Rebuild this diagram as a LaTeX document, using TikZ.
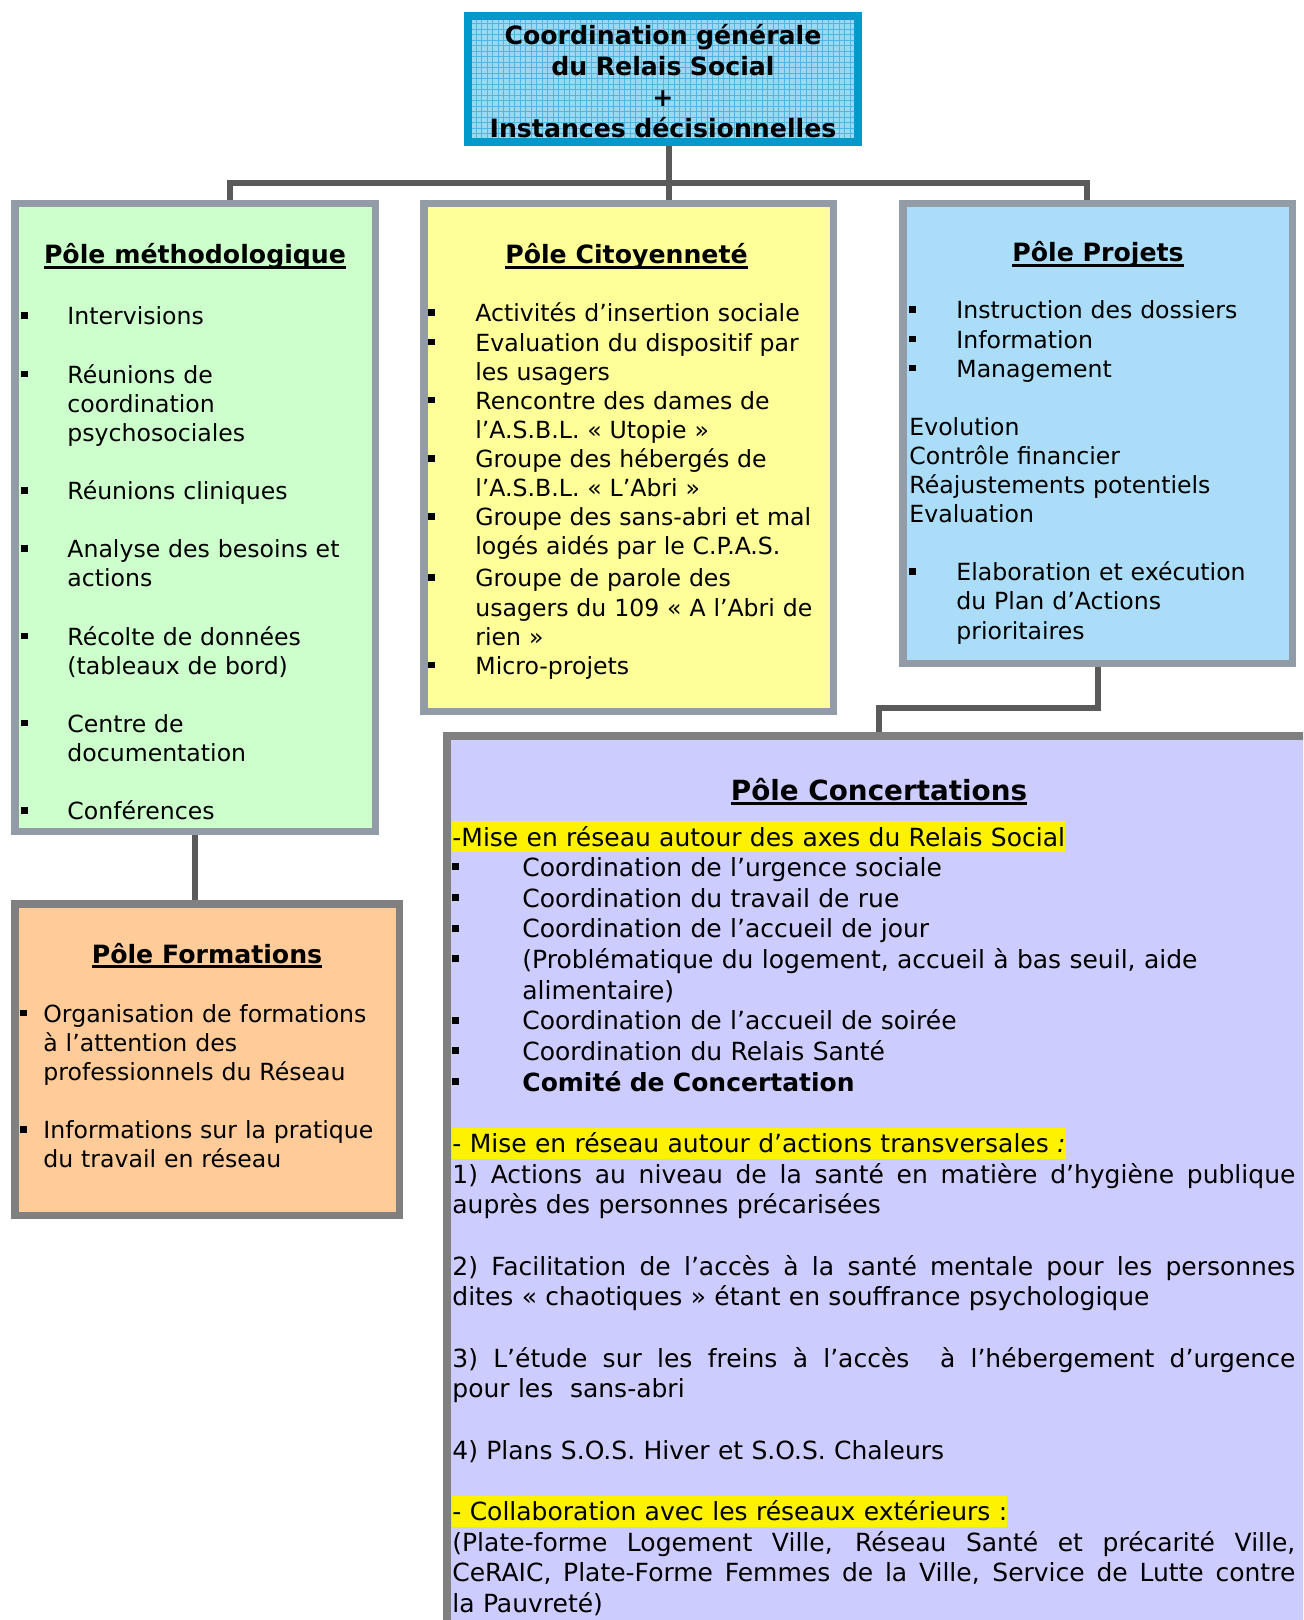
\documentclass[tikz,border=0pt]{standalone}
\usepackage{fontspec}
\setmainfont{DejaVu Sans}
\usepackage{xcolor}
\usetikzlibrary{positioning}

\definecolor{bordgris}{HTML}{939CA6}
\definecolor{bordfonce}{HTML}{808080}
\definecolor{liengris}{HTML}{5A5A5A}
\definecolor{bleucoord}{HTML}{0099CC}
\definecolor{fondcoord}{HTML}{9CD8F0}
\definecolor{grillecoord}{HTML}{4DB6E2}
\definecolor{vertpale}{HTML}{CCFFCC}
\definecolor{jaunepale}{HTML}{FFFF99}
\definecolor{bleupale}{HTML}{ABDDF8}
\definecolor{mauvepale}{HTML}{CCCCFF}
\definecolor{peche}{HTML}{FFCC99}

\setlength{\lineskiplimit}{-20pt}
\newsavebox{\boitetitre}
\newcommand{\titre}[1]{\sbox{\boitetitre}{\bfseries #1}\rlap{\rule[-2.5pt]{\wd\boitetitre}{1.3pt}}\usebox{\boitetitre}}
\newcommand{\carre}{\rule[0.25em]{0.28em}{0.28em}}
\newcommand{\puce}[2]{\hangindent=#1\hangafter=1\noindent\makebox[#1][l]{\carre}#2\par}
\newcommand{\vide}{\vskip\baselineskip}
\newcommand{\surligne}[1]{{\setlength{\fboxsep}{0pt}\colorbox{yellow}{\rule[-3pt]{0pt}{15.5pt}#1}}}
\newcommand{\ligne}[1]{{\spaceskip=0pt\xspaceskip=0pt\makebox[421.5pt][s]{#1}}}

\begin{document}
\begin{tikzpicture}[x=0.5pt, y=-0.5pt,
    cadre/.style={draw=bordgris, line width=3.75pt, outer sep=1.875pt, inner sep=0pt},
    lien/.style={draw=liengris, line width=3pt},
    entete/.style={anchor=base, inner sep=0pt, font=\fontsize{12.6}{15}\selectfont},
    texte/.style={anchor=base west, inner sep=0pt, align=left, font=\fontsize{11.8}{14.55}\selectfont},
    grand/.style={texte, font=\fontsize{12.5}{15.33}\selectfont}]
    \useasboundingbox (0,0) rectangle (1303,1620);
    \clip (0,0) rectangle (1303,1620);
    \fill[white] (0,0) rectangle (1303,1620);

    % les cadres
    \node[cadre, draw=bleucoord, line width=4pt, outer sep=2pt, fill=fondcoord, minimum width=195pt, minimum height=63pt,
        path picture={\draw[grillecoord, line width=0.5pt, step=2.75pt] (path picture bounding box.south west) grid (path picture bounding box.north east);}] (coord) at (663,79) {};
    \node[cadre, fill=vertpale, minimum width=180.25pt, minimum height=313.75pt] (methodo) at (195,517.5) {};
    \node[cadre, fill=jaunepale, minimum width=204.75pt, minimum height=253.75pt] (citoy) at (628.5,457.5) {};
    \node[cadre, fill=bleupale, minimum width=194.75pt, minimum height=229.75pt] (projets) at (1097.5,433.5) {};
    \node[cadre, draw=bordfonce, fill=mauvepale, minimum width=439.75pt, minimum height=460.25pt] (concert) at (886.5,1196) {};
    \node[cadre, draw=bordfonce, fill=peche, minimum width=192.25pt, minimum height=155.75pt] (formations) at (207,1059.5) {};

    % les liens
    \coordinate (bus) at (669,183);
    \coordinate (busg) at (230,183);
    \coordinate (busd) at (1087,183);
    \coordinate (palier) at (879,708);
    \draw[lien] (methodo.north -| busg) -- (busg) -- (busd) -- (projets.north -| busd);
    \draw[lien] (coord.south -| bus) -- (citoy.north -| bus);
    \draw[lien] (projets.south) |- (palier) -- (concert.north -| palier);
    \draw[lien] (methodo.south) -- (formations.north -| methodo.south);

    % textes
    \node[anchor=base, inner sep=0pt, text width=220pt, align=center, font=\fontsize{12.6}{15.35}\selectfont\bfseries] (coordtexte) at (663,45)
        {Coordination générale\\du Relais Social\\+\\Instances décisionnelles};

    \node[entete] (titremethodo) at (195,264) {\titre{Pôle méthodologique}};
    \node[entete] (titrecitoy) at (626.5,264) {\titre{Pôle Citoyenneté}};
    \node[entete] (titreprojets) at (1098,262) {\titre{Pôle Projets}};
    \node[entete, font=\fontsize{13.9}{16}\selectfont] (titreconcert) at (879,800) {\titre{Pôle Concertations}};
    \node[entete] (titreformations) at (207,963) {\titre{Pôle Formations}};

    \node[texte, text width=175pt] (listemethodo) at (21,325) {%
        \puce{23pt}{Intervisions}\vide
        \puce{23pt}{Réunions de\newline coordination\newline psychosociales}\vide
        \puce{23pt}{Réunions cliniques}\vide
        \puce{23pt}{Analyse des besoins et\newline actions}\vide
        \puce{23pt}{Récolte de données\newline (tableaux de bord)}\vide
        \puce{23pt}{Centre de\newline documentation}\vide
        \puce{23pt}{Conférences}};

    \node[texte, text width=200pt] (listecitoy) at (428,322) {%
        \puce{23.5pt}{Activités d’insertion sociale}
        \puce{23.5pt}{Evaluation du dispositif par\newline les usagers}
        \puce{23.5pt}{Rencontre des dames de\newline l’A.S.B.L. « Utopie »}
        \puce{23.5pt}{Groupe des hébergés de\newline l’A.S.B.L. « L’Abri »}
        \puce{23.5pt}{Groupe des sans-abri et mal\newline logés aidés par le C.P.A.S.}
        \vskip1.5pt
        \puce{23.5pt}{Groupe de parole des\newline usagers du 109 « A l’Abri de\newline rien »}
        \puce{23.5pt}{Micro-projets}};

    \node[texte, text width=190pt] (listeprojets) at (909,319) {%
        \puce{23.5pt}{Instruction des dossiers}
        \puce{23.5pt}{Information}
        \puce{23.5pt}{Management}
        \vide
        Evolution\par
        Contrôle financier\par
        Réajustements potentiels\par
        Evaluation\par
        \vide
        \puce{23.5pt}{Elaboration et exécution\newline du Plan d’Actions\newline prioritaires}};

    \node[texte, text width=190pt] (listeformations) at (20,1022) {%
        \puce{11.5pt}{Organisation de formations\newline à l’attention des\newline professionnels du Réseau}\vide
        \puce{11.5pt}{Informations sur la pratique\newline du travail en réseau}};

    \node[grand, text width=421.5pt] (listeconcert) at (452,846) {%
        \surligne{-Mise en réseau autour des axes du Relais Social}\par
        \puce{35pt}{Coordination de l’urgence sociale}
        \puce{35pt}{Coordination du travail de rue}
        \puce{35pt}{Coordination de l’accueil de jour}
        \puce{35pt}{(Problématique du logement, accueil à bas seuil, aide\newline alimentaire)}
        \puce{35pt}{Coordination de l’accueil de soirée}
        \puce{35pt}{Coordination du Relais Santé}
        \puce{35pt}{\textbf{Comité de Concertation}}
        \vide
        \surligne{- Mise en réseau autour d’actions transversales \textit{:}}\par
        \ligne{1) Actions au niveau de la santé en matière d’hygiène publique}\par
        auprès des personnes précarisées\par
        \vide
        \ligne{2) Facilitation de l’accès à la santé mentale pour les personnes}\par
        dites « chaotiques » étant en souffrance psychologique\par
        \vide
        \ligne{3) L’étude sur les freins à l’accès \ à l’hébergement d’urgence}\par
        pour les \ sans-abri\par
        \vide
        4) Plans S.O.S. Hiver et S.O.S. Chaleurs\par
        \vide
        \surligne{- Collaboration avec les réseaux extérieurs :}\par
        \ligne{(Plate-forme Logement Ville, Réseau Santé et précarité Ville,}\par
        \ligne{CeRAIC, Plate-Forme Femmes de la Ville, Service de Lutte contre}\par
        la Pauvreté)};
\end{tikzpicture}
\end{document}
